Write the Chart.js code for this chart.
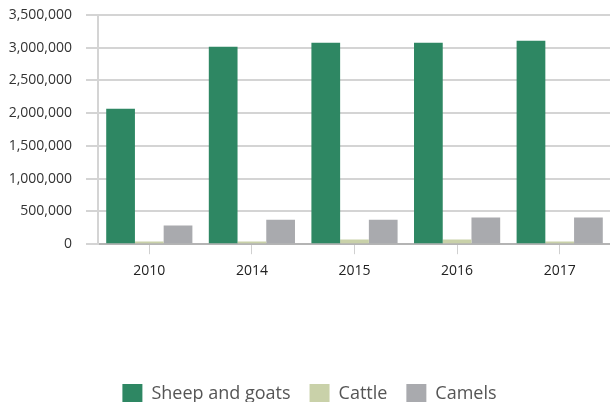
<!DOCTYPE html>
<html>
<head>
<meta charset="utf-8">
<script src="https://cdn.jsdelivr.net/npm/chart.js@4/dist/chart.umd.min.js"></script>
<style>
  html, body { margin: 0; padding: 0; background: #fff; overflow: hidden; }
  #wrap { width: 611px; height: 414px; position: relative; }
</style>
</head>
<body>
<div id="wrap"><canvas id="grafico_barras"></canvas></div>
<script>
// years on the x axis
var anios = ["2010", "2014", "2015", "2016", "2017"];
// head counts per year
var ovejas_cabras = [2070000, 3015000, 3075000, 3075000, 3105000];
var ganado = [40000, 40000, 70000, 70000, 40000];
var camellos = [285000, 373000, 373000, 408000, 408000];

var fuente = "'Open Sans', 'DejaVu Sans', sans-serif";

document.addEventListener('DOMContentLoaded', function () {
    var ctx = document.getElementById("grafico_barras").getContext("2d");
    var myChart = new Chart(ctx, {
        type: "bar",
        data: {
            labels: anios,
            datasets: [{
                label: "Sheep and goats",
                data: ovejas_cabras,
                backgroundColor: "#2e8763"
            }, {
                label: "Cattle",
                data: ganado,
                backgroundColor: "#c9d1a9"
            }, {
                label: "Camels",
                data: camellos,
                backgroundColor: "#a9aaae"
            }]
        },
        options: {
            responsive: true,
            maintainAspectRatio: false,
            animation: false,
            layout: { padding: { left: 8, top: 0, right: 0, bottom: 0 } },
            datasets: { bar: { categoryPercentage: 0.84, barPercentage: 1.0 } },
            plugins: {
                tooltip: { enabled: false },
                legend: {
                    position: "bottom",
                    labels: {
                        boxWidth: 20,
                        boxHeight: 20,
                        padding: 19,
                        color: "#555",
                        font: { family: fuente, size: 18 }
                    }
                }
            },
            scales: {
                x: {
                    grid: { drawOnChartArea: false, offset: false, tickLength: 10, color: "#d0d0d0" },
                    border: { color: "#b4b4b4", width: 2 },
                    ticks: { color: "#222", padding: 8, font: { family: fuente, size: 14 } },
                    afterFit: function (eje) { eje.height += 78; }
                },
                y: {
                    beginAtZero: true,
                    min: 0,
                    max: 3500000,
                    grid: { color: "#d4d4d4", lineWidth: 2, tickLength: 12 },
                    border: { color: "#d4d4d4", width: 2 },
                    ticks: {
                        stepSize: 500000,
                        color: "#333",
                        padding: 14,
                        font: { family: fuente, size: 14 },
                        callback: function (v) { return v.toLocaleString("en-US"); }
                    },
                    afterFit: function (eje) { eje.width = 90; eje.paddingTop = 15; }
                }
            }
        }
    });
});
</script>
</body>
</html>
